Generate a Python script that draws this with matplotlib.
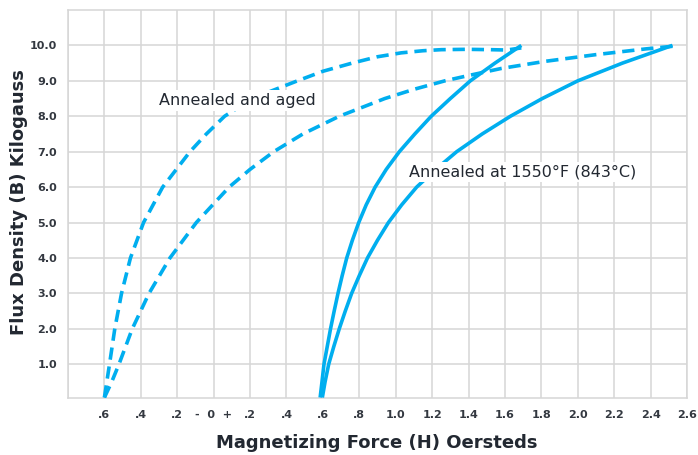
import matplotlib
matplotlib.use('Agg')
import matplotlib.pyplot as plt
import numpy as np

## curves (H in Oersteds, B in Kilogauss)
aged_outer_h=[-0.6,-0.587,-0.572,-0.543,-0.506,-0.457,-0.385,-0.28,-0.13,-0.04,0.06,0.21,0.46,0.6,0.76,0.9,1.03,1.15,1.25,1.39,1.52,1.61,1.69]
aged_outer_b=[0.06,0.5,1.0,2.0,3.0,4.0,5.0,6.0,7.0,7.5,8.0,8.5,9.0,9.27,9.5,9.68,9.79,9.85,9.88,9.89,9.88,9.87,9.93]
aged_inner_h=[-0.6,-0.56,-0.52,-0.447,-0.355,-0.24,-0.095,0.085,0.2,0.33,0.49,0.69,0.94,1.1,1.27,1.40,1.58,1.82,2.1,2.37,2.53]
aged_inner_b=[0.06,0.5,1.0,2.0,3.0,4.0,5.0,6.0,6.5,7.0,7.5,8.0,8.5,8.76,9.0,9.15,9.35,9.55,9.74,9.9,9.98]
ann_upper_h=[0.585,0.595,0.606,0.624,0.642,0.662,0.683,0.706,0.731,0.762,0.797,0.838,0.887,0.948,1.02,1.105,1.195,1.3,1.41,1.545,1.69]
ann_upper_b=[0.06,0.5,1.0,1.5,2.0,2.5,3.0,3.5,4.0,4.5,5.0,5.5,6.0,6.5,7.0,7.5,8.0,8.5,9.0,9.5,10.0]
ann_lower_h=[0.597,0.612,0.632,0.66,0.69,0.723,0.758,0.8,0.845,0.9,0.96,1.033,1.115,1.22,1.335,1.475,1.63,1.805,2.0,2.245,2.52]
ann_lower_b=[0.06,0.5,1.0,1.5,2.0,2.5,3.0,3.5,4.0,4.5,5.0,5.5,6.0,6.5,7.0,7.5,8.0,8.5,9.0,9.5,10.0]

xticks=[-0.6,-0.4,-0.2,0,0.2,0.4,0.6,0.8,1.0,1.2,1.4,1.6,1.8,2.0,2.2,2.4,2.6]
xlabels=['.6','.4','.2','-  0  +','.2','.4','.6','.8','1.0','1.2','1.4','1.6','1.8','2.0','2.2','2.4','2.6']
yticks=[1,2,3,4,5,6,7,8,9,10]
ylabels=['1.0','2.0','3.0','4.0','5.0','6.0','7.0','8.0','9.0','10.0']

blue='#00AEEF'
gridc='#d6d6d6'
txtc='#222831'

fig=plt.figure(figsize=(6.98,4.55),dpi=100)
ax=fig.add_axes([68/698,1-397.5/455,(687-68)/698,(397.5-10)/455])

for h,b in [(aged_outer_h,aged_outer_b),(aged_inner_h,aged_inner_b)]:
	ax.plot(h,b,color=blue,lw=2.6,dashes=(3.4,1.9),dash_capstyle='butt',dash_joinstyle='round',zorder=3)
for h,b in [(ann_upper_h,ann_upper_b),(ann_lower_h,ann_lower_b)]:
	ax.plot(h,b,color=blue,lw=2.6,solid_capstyle='butt',solid_joinstyle='round',zorder=3)

ax.set_xlim(-0.8,2.6)
ax.set_ylim(0.06,11)
ax.set_xticks(xticks)
ax.set_xticklabels(xlabels)
ax.set_yticks(yticks)
ax.set_yticklabels(ylabels)
ax.set_xticks(np.arange(-0.8,2.61,0.2),minor=True)
ax.grid(True,which='both',color=gridc,lw=1.1)
ax.tick_params(which='both',length=0)
ax.tick_params(axis='x',pad=9)
ax.tick_params(axis='y',pad=8)
for lab in ax.get_xticklabels()+ax.get_yticklabels():
	lab.set_fontsize(8);lab.set_fontweight('bold');lab.set_color('#333840')
for s in ax.spines.values():
	s.set_color(gridc);s.set_linewidth(1.1)
ax.set_axisbelow(True)

ax.text(-0.3,8.45,'Annealed and aged',fontsize=11.5,color=txtc,va='center',ha='left',
	bbox=dict(facecolor='white',edgecolor='none',pad=2),zorder=4)
ax.text(1.075,6.42,'Annealed at 1550°F (843°C)',fontsize=11.5,color=txtc,va='center',ha='left',
	bbox=dict(facecolor='white',edgecolor='none',pad=2),zorder=4)

fig.text(377/698,1-443/455,'Magnetizing Force (H) Oersteds',fontsize=13,fontweight='bold',color=txtc,ha='center',va='center')
fig.text(19/698,1-202/455,'Flux Density (B) Kilogauss',fontsize=13,fontweight='bold',color=txtc,ha='center',va='center',rotation=90)

plt.savefig('out.png',dpi=100)
